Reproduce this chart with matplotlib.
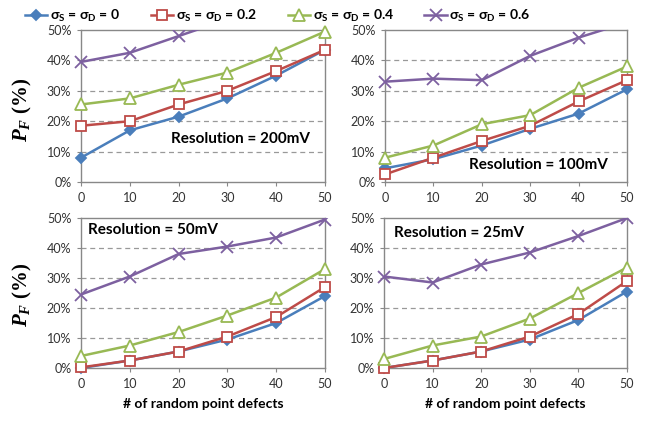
import numpy as np
import matplotlib.pyplot as plt
from matplotlib.lines import Line2D
from matplotlib.patches import Rectangle

# data (percent)
defects = [0, 10, 20, 30, 40, 50]
series_names = ['0', '0.2', '0.4', '0.6']
panel_titles = ['Resolution = 200mV', 'Resolution = 100mV',
                'Resolution = 50mV', 'Resolution = 25mV']

pf_200 = [[8, 17, 21.5, 27.5, 35, 43.5],
          [18.5, 20, 25.5, 30, 36.5, 43.5],
          [25.5, 27.5, 32, 36, 42.5, 49.5],
          [39.5, 42.5, 48, 53.5, 58, 62]]
pf_100 = [[4.5, 7.5, 12, 17.5, 22.5, 30.5],
          [2.5, 8, 13.5, 18.5, 26.5, 33.5],
          [8, 12, 19, 22, 31, 38],
          [33, 34, 33.5, 41.5, 47.5, 52.5]]
pf_50 = [[0, 2.5, 5.5, 9.5, 15, 24],
         [0.2, 2.5, 5.5, 10.5, 17, 27],
         [4, 7.5, 12, 17.5, 23.5, 33],
         [24.5, 30.5, 38, 40.5, 43.5, 49.5]]
pf_25 = [[0, 2.5, 5.5, 9.5, 16, 25.5],
         [0, 2.5, 5.5, 10.5, 18, 29],
         [3, 7.5, 10.5, 16.5, 25, 33.5],
         [30.5, 28.5, 34.5, 38.5, 44, 50]]

colors = ['#4A7EBB', '#BE4B48', '#98B954', '#7D60A0']
markers = ['D', 's', '^', 'x']
msizes = [5, 7, 8, 9]

plt.rcParams['font.family'] = ['Lato', 'DejaVu Sans']
plt.rcParams['mathtext.fontset'] = 'custom'
plt.rcParams['mathtext.rm'] = 'Lato'
plt.rcParams['mathtext.bf'] = 'Lato:bold'
plt.rcParams['mathtext.it'] = 'Liberation Serif:bold:italic'

fig = plt.figure(figsize=(6.57, 4.21), dpi=100)
boxes = [[81, 30, 325, 182], [385, 30, 627, 182],
         [81, 218, 325, 368], [384, 218, 627, 368]]
text_pos = [(0.94, 0.28, 'right'), (0.92, 0.11, 'right'),
            (0.03, 0.92, 'left'), (0.04, 0.90, 'left')]
all_data = [pf_200, pf_100, pf_50, pf_25]

W, H = 657., 421.
handles = []
for i in range(4):
    mfc = 'white' if i in (1, 2) else colors[i]
    handles.append(Line2D([], [], color=colors[i], lw=1.8, marker=markers[i],
                          ms=msizes[i], mfc=mfc, mec=colors[i], mew=1.3))

for k in range(4):
    l, t, r, b = boxes[k]
    ax = fig.add_axes([l / W, 1 - b / H, (r - l) / W, (b - t) / H])
    for i in range(4):
        mfc = 'white' if i in (1, 2) else colors[i]
        ax.plot(defects, all_data[k][i], color=colors[i], lw=1.8, zorder=3)
        pts, = ax.plot(defects, all_data[k][i], ls='none', marker=markers[i],
                       ms=msizes[i], mfc=mfc, mec=colors[i], mew=1.3,
                       zorder=4)
        # markers may stick out over the frame, lines stop at it
        top = 1.0 if i == 3 else 1.09
        mclip = Rectangle((-0.06, -0.06), 1.12, top + 0.06,
                          transform=ax.transAxes, visible=False)
        ax.add_patch(mclip)
        pts.set_clip_path(mclip)
    ax.set_xlim(0, 50)
    ax.set_ylim(0, 50)
    ax.set_xticks(defects)
    ax.set_yticks([0, 10, 20, 30, 40, 50])
    ax.set_yticklabels(['%d%%' % v for v in [0, 10, 20, 30, 40, 50]])
    ax.tick_params(labelsize=9, length=3, color='#888888', pad=4,
                   labelcolor='#333333')
    for v in [10, 20, 30, 40]:
        ax.axhline(v, color='#999999', lw=0.9, ls=(0, (4, 3)), zorder=1)
    for s in ax.spines.values():
        s.set_color('#888888')
        s.set_linewidth(1.0)
    x, y, ha = text_pos[k]
    ax.text(x, y, panel_titles[k], transform=ax.transAxes, ha=ha,
            va='center', fontsize=11, fontweight='bold', zorder=5)
    if k >= 2:
        ax.set_xlabel('# of random point defects', fontsize=10,
                      fontweight='bold', labelpad=6)

labels = ['σ$_\\mathbf{S}$ = σ$_\\mathbf{D}$ = ' + n for n in series_names]
fig.legend(handles, labels, loc='upper center', bbox_to_anchor=(278 / W, 1.01),
           ncol=4, frameon=False, handlelength=1.6, handletextpad=0.2,
           columnspacing=2.2, prop={'weight': 'bold', 'size': 10})

for yc in [110, 295]:
    fig.text(22 / W, 1 - yc / H, r'$P_F$ (%)', rotation=90, ha='center',
             va='center', fontsize=15, fontweight='bold',
             family='Liberation Serif')

fig.savefig('out.png', dpi=100)
